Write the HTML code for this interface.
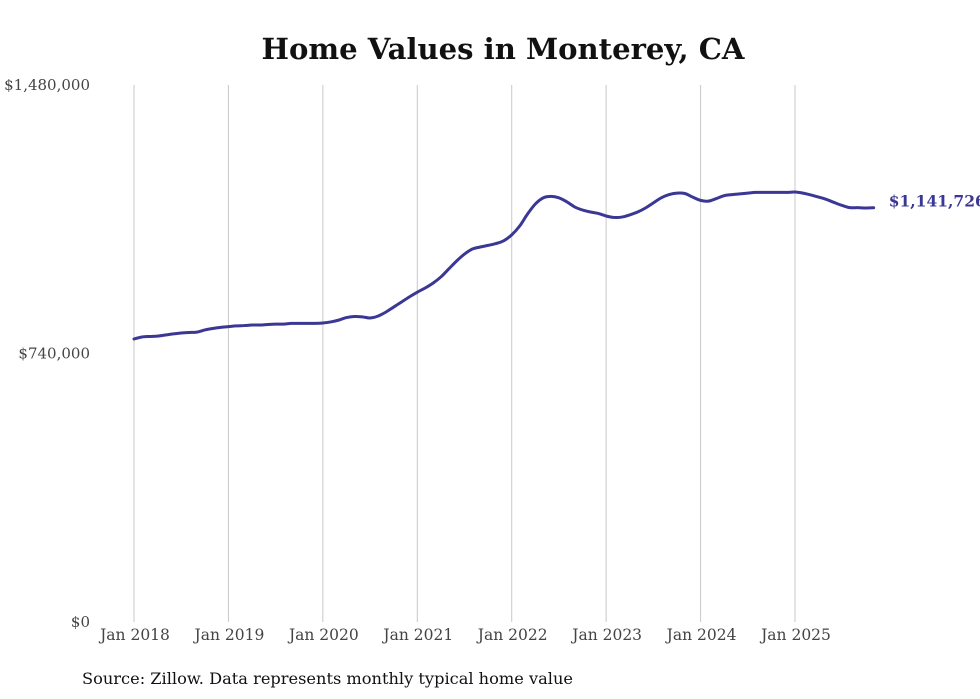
<!DOCTYPE html>
<html><head><meta charset="utf-8"><style>
body{margin:0;background:#fff;width:980px;height:699px;overflow:hidden}
svg{display:block;font-family:"DejaVu Serif","Liberation Serif",serif}
</style></head><body>
<svg id="chart" width="980" height="699">
<text x="503" y="59" text-anchor="middle" font-size="29" font-weight="bold" fill="#111" textLength="483" lengthAdjust="spacingAndGlyphs">Home Values in Monterey, CA</text>
<g id="grid"></g>
<g id="yticks"></g>
<g id="xticks"></g>
<path id="line" fill="none" stroke="#3b3794" stroke-width="3" stroke-linejoin="round" stroke-linecap="round"></path>
<text id="endlabel" font-size="15.5" font-weight="bold" fill="#3b3794"></text>
<text x="82" y="684" font-size="16" fill="#111" textLength="491" lengthAdjust="spacingAndGlyphs">Source: Zillow. Data represents monthly typical home value</text>
</svg>
<script>
const yearLabels=["Jan 2018","Jan 2019","Jan 2020","Jan 2021","Jan 2022","Jan 2023","Jan 2024","Jan 2025"];
const yTickValues=[0,740000,1480000];
const yTickLabels=["$0","$740,000","$1,480,000"];
const values2018=[780,785.5,787,788,791,794,796.5,798,799,805,809,812];
const values2019=[814,816,817,818.5,818.5,820,821,821,823,823,823,823];
const values2020=[824,827,832,839,842,841,838,843,854,868,882,896];
const values2021=[909,920.5,934,951,973,995,1014,1028,1033.5,1038,1043,1051];
const values2022=[1067,1091,1124,1152,1169,1173,1169,1158,1144,1135.5,1130,1126];
const values2023=[1119,1115,1116,1122,1130,1141,1155,1169,1178,1182,1181,1171];
const values2024=[1162,1160,1167,1175,1178,1180,1182,1184,1184,1184,1184,1184];
const values2025=[1185,1182,1177,1171,1164.5,1156,1148,1142,1142,1141,1141.726];
const values=[].concat(values2018,values2019,values2020,values2021,values2022,values2023,values2024,values2025).map(v=>v*1000);
const NS="http://www.w3.org/2000/svg";
const x0=134,monthW=(795-134)/84;
const xs=i=>x0+i*monthW;
const ys=v=>622-v/1480000*537;
function mk(tag,attrs,parent,text){const e=document.createElementNS(NS,tag);for(const k in attrs)e.setAttribute(k,attrs[k]);if(text!==undefined)e.textContent=text;parent.appendChild(e);return e;}
const grid=document.getElementById('grid'),xt=document.getElementById('xticks'),yt=document.getElementById('yticks');
yearLabels.forEach((l,i)=>{
  const x=xs(i*12);
  const g=mk('line',{x1:x,x2:x,y1:85,y2:622,stroke:'#c8c8c8','stroke-width':1},grid);
  
  
  const t=mk('text',{x:x+1,y:640,'text-anchor':'middle','font-size':15.5,fill:'#444'},xt,l);
  
  
});
yTickValues.forEach((v,i)=>{
  const t=mk('text',{x:90,y:ys(v)+5,'text-anchor':'end','font-size':15,fill:'#444'},yt,yTickLabels[i]);
  
  
});
const pts=values.map((v,i)=>[xs(i),ys(v)]);
let d='M'+pts[0][0]+','+pts[0][1];
for(let i=0;i<pts.length-1;i++){
  const p0=pts[Math.max(0,i-1)],p1=pts[i],p2=pts[i+1],p3=pts[Math.min(pts.length-1,i+2)];
  const c1=[p1[0]+(p2[0]-p0[0])/6,p1[1]+(p2[1]-p0[1])/6],c2=[p2[0]-(p3[0]-p1[0])/6,p2[1]-(p3[1]-p1[1])/6];
  d+=` C${c1[0]},${c1[1]} ${c2[0]},${c2[1]} ${p2[0]},${p2[1]}`;
}
document.getElementById('line').setAttribute('d',d);
const last=values[values.length-1];
const el=document.getElementById('endlabel');
el.setAttribute('x',xs(values.length-1)+15);
el.setAttribute('y',ys(last)-1);
el.textContent='$'+Math.round(last).toLocaleString('en-US');
</script>
</body></html>
